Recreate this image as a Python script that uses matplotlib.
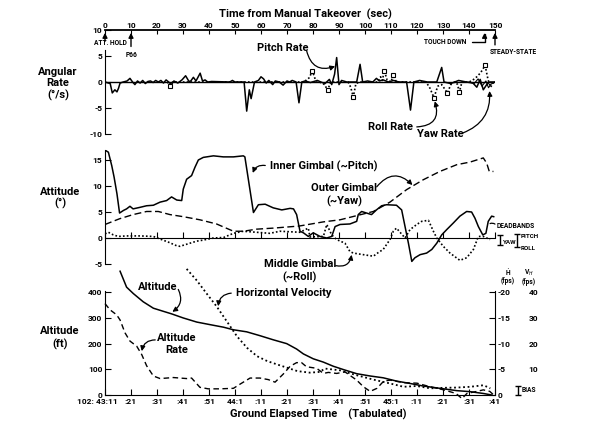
import numpy as np
import matplotlib
matplotlib.use("Agg")
from matplotlib import pyplot as plt
from matplotlib.transforms import ScaledTranslation

plt.rcParams['font.family'] = ['Roboto', 'DejaVu Sans']

# ---------------- data ----------------
# time from manual takeover (s)
top_ticks = [0, 10, 20, 30, 40, 50, 60, 70, 80, 90, 100, 110, 120, 130, 140, 150]
get_labels = ["102: 43:11", ":21", ":31", ":41", ":51", "44:1", ":11", ":21", ":31",
              ":41", ":51", "45:1", ":11", ":21", ":31", ":41"]

# angular rates (deg/s)
pitch_t = [0, 2.0, 2.8, 3.8, 4.6, 5.2, 5.8, 7, 8.5, 9.6, 10.6, 11.5, 12.5, 13.5, 14.5, 15.5,
           16.5, 17.5, 18.5, 19.5, 20.5, 21.5, 22.5, 23.5, 24.5, 25.5, 26.5, 28, 29.6, 31,
           32.3, 33, 34, 35, 36.6, 37.5, 38.5, 39.5, 41, 48, 49, 50, 53.5, 54.5, 55.5, 56.2,
           57.5, 59, 60, 61, 62, 63, 64.5, 65.5, 67, 68.5, 70, 71, 72, 73.5, 74.6, 75.7, 77,
           79, 81.7, 83, 84.6, 86.3, 87.2, 88.3, 89.1, 90, 91, 93, 96.8, 98.1, 99.1, 101, 103,
           104.4, 105.5, 107, 109, 111, 113, 116, 117.5, 118.8, 121, 124, 127.6, 129.5, 130.4,
           133, 136, 139, 141.5, 143, 144.3, 145.5, 146.8, 148, 150]
pitch_v = [0, -0.3, -2.1, -1.5, -1.9, -1.2, -0.2, 0, 0.2, 0.7, 0, -0.5, 0.2, -0.2, 0.3, -0.3,
           0.1, 0.2, -0.1, 0.3, 0, 0.3, -0.2, 0.4, 0, -0.5, 0.2, -0.2, 0.4, 1.2,
           0.1, 0.2, 0.9, 0.2, 1.7, 0.2, 0.4, 0, 0.1, 0, 0.3, 0, 0, -5.6, -1.5, -3.2,
           0, 0.3, 1.0, 0.6, -0.2, 0.3, -0.5, 0.2, 0, -0.6, 0.2, 0, 0.3, 0, -4.0, 0, 0.2,
           -0.1, 0.3, 0, -0.3, 0.5, -0.5, 1.5, 4.7, -0.5, 0.3, 0, 0, 3.4, 0, 0.2, 0,
           0.7, 0.2, 0.4, 0, 0.3, 0, 0, -5.4, 0, 0.3, 0, 0, 2.8, 0,
           -0.3, 0.3, 0, -0.2, -1.0, 0.5, -1.5, -0.5, 0, 0]
roll_t = [24, 25, 26, 76.5, 78.5, 79.8, 81, 82.5, 84.5, 85.6, 86.8, 93.5, 94.5, 95.5, 96.5, 98,
          105, 106, 106.7, 107.4, 108.5, 110, 110.9, 112, 123.5, 125, 126.5, 128, 129.5, 131.7,
          133, 134.5, 135.5, 136.3, 137.3, 140, 141.3, 143, 144.5, 146.2, 147.3, 148.3, 149.5]
roll_v = [0, -0.7, 0, 0, 0.8, 2.1, 0.3, 0, -0.5, -1.6, 0, 0, -1.0, -2.9, -0.3, 0,
          0, 1.0, 0.3, 2.2, 0.4, 0, 1.4, 0, 0, -1.2, -3.0, -0.8, -0.5, -2.1,
          -0.5, 0, -0.4, -1.9, 0, 0, 0.3, 1.0, 1.8, 3.2, 0.5, -1.0, 0]
roll_peaks = [1, 5, 9, 13, 19, 22, 26, 29, 33, 39]
yaw_t = [140, 142, 143.5, 145, 146.5, 147.5, 148.5, 150]
yaw_v = [0, -0.3, 0.6, -0.8, 0.2, -1.1, -0.4, 0]

# gimbal angles (deg)
inner_t = [0, 1.3, 2.6, 3.5, 4.6, 5.6, 7.1, 8.3, 9.6, 10.8, 13.5, 16.0, 18.6, 21.2, 23.7, 25.6,
           27.6, 29.5, 30.1, 31.4, 33.3, 34.6, 35.9, 37.8, 41.7, 45.5, 49.4, 53.2, 53.8, 57.1,
           59.0, 61.6, 64.7, 68.0, 71.2, 72.5, 73.7, 75.0, 76.3, 78.2, 80.1, 82.7, 85.3, 87.2,
           88.5, 90.4, 94.2, 96.8, 97.4, 98.7, 100.6, 102.5, 104.4, 106.4, 108.3, 112.1, 114.1,
           115.4, 116.7, 118.0, 119.2, 121.2, 123.7, 125.7, 127.6, 129.5, 131.4, 134.0, 136.5,
           139.1, 141.0, 142.3, 143.6, 145.3, 146.5, 147.4, 148.7, 149.5]
inner_v = [16.9, 16.5, 13.9, 11.7, 8.5, 4.8, 5.3, 5.6, 6.1, 5.6, 5.9, 6.2, 6.3, 6.9, 7.2, 7.9,
           7.3, 7.2, 9.4, 11.3, 12.0, 13.6, 15.0, 15.5, 15.8, 15.6, 15.6, 15.8, 15.6, 4.9,
           6.4, 6.5, 5.8, 5.4, 5.7, 5.6, 4.5, 1.3, 1.0, 0.3, 1.0, 0.3, 0, 0.3,
           2.2, 2.6, 2.7, 3.2, 4.5, 5.1, 4.8, 4.5, 5.4, 6.2, 6.4, 6.3, 5.4,
           2.2, -1.0, -4.5, -3.8, -3.2, -2.9, -2.2, -1.0, 0.6, 1.6, 2.9, 4.2,
           5.1, 5.0, 3.8, 2.2, 0.6, 0.9, 3.2, 4.2, 4.1]
outer_t = [0, 5.6, 10.8, 16.0, 20.5, 25.0, 30.1, 36.5, 42.9, 49.4, 53.2, 58.3, 64.7, 74.7, 84.0,
           90.4, 96.8, 103.2, 109.6, 116.0, 122.4, 128.8, 135.3, 140.4, 145.5, 146.8, 147.8, 149.4]
outer_v = [2.6, 3.7, 4.5, 5.1, 5.1, 4.5, 4.1, 3.5, 2.7, 1.3, 1.3, 1.7, 1.9, 2.3, 3.1,
           3.5, 4.3, 5.1, 6.9, 9.3, 11.2, 12.8, 14.1, 14.6, 15.4, 14.4, 12.8, 12.8]
middle_t = [0, 1.3, 3.2, 5.1, 8.3, 13.5, 18.6, 21.2, 24.4, 27.6, 28.8, 31.4, 35.3, 37.8, 41.7,
            45.6, 49.4, 53.2, 58.3, 63.4, 67.3, 71.2, 75.0, 78.2, 78.8, 84.0, 85.3, 87.2, 89.1,
            92.3, 94.2, 95.5, 99.3, 103.2, 105.1, 107.0, 109.6, 110.9, 112.1, 115.4, 117.3,
            119.9, 121.8, 124.4, 126.3, 127.6, 130.1, 132.7, 136.5, 139.1, 141.7, 143.6, 145.5,
            148.1]
middle_v = [0.8, 1.1, 0.6, 0.3, 0.4, 0.4, 0.3, -0.2, -0.8, -1.5, -1.6, -1.2, -0.6, -0.4, 0,
            0.1, 0.9, 1.3, 1.1, 0.9, 1.3, 1.2, 1.1, 1.9, 0.2, 0.3, 2.6, 0.6, -0.3,
            -1.0, -2.6, -2.9, -3.2, -3.5, -2.8, -2.2, -0.3, 1.3, 1.9, 0, 1.6,
            2.6, 3.2, 3.4, 1.3, 0, -1.6, -2.9, -4.3, -3.8, -2.2, 0.3, 0.3,
            -0.3]

# altitude (ft), altitude rate (fps), horizontal velocity (fps)
alt_t = [5.8, 8.3, 10.9, 14.7, 18.6, 22.4, 25.6, 30.1, 35.3, 40.4, 45.6, 49.4, 54.5, 59.6, 64.7,
         69.9, 73.7, 76.3, 80.1, 84.0, 87.8, 91.7, 96.8, 102.0, 107.0, 112.2, 117.3, 122.4,
         128.8, 135.3, 140.4, 145.5, 148.7]
alt_v = [482, 420, 395, 363, 338, 326, 316, 300, 284, 274, 264, 254, 246, 231, 215,
         200, 179, 160, 141, 128, 112, 99, 83, 74, 67, 54, 45, 35,
         26, 17, 13, 6, 0]
hdot_t = [0, 1.9, 4.5, 5.8, 7.7, 9.6, 12.2, 14.1, 16.0, 18.6, 21.2, 26.3, 31.4, 33.3, 36.5, 39.7,
          44.2, 49.4, 51.9, 55.8, 59.6, 62.8, 65.4, 68.6, 71.2, 73.7, 75.6, 77.5, 81.4, 84.0,
          85.9, 89.1, 92.3, 96.8, 99.4, 102.0, 104.6, 107.2, 109.7, 114.9, 120.0, 125.1, 130.3,
          135.0, 137.3, 139.2, 143.0, 145.5, 148.0, 149.5]
hdot_v = [-17.8, -16.6, -15.6, -14.6, -12.1, -10.5, -9.5, -7.9, -5.7, -3.7, -3.2, -3.4, -3.2,
          -3.3, -1.5, -1.2, -1.2, -1.3, -2.1, -3.3, -3.3, -3.0, -2.5, -4.1, -5.6, -6.3, -6.3,
          -5.5, -5.2, -4.2, -4.4, -4.2, -4.5, -2.9, -1.6, -0.7, -1.3, -2.7, -2.9, -2.4, -2.3,
          -1.6, -1.0, -0.3, 0.7, -0.3, -0.7, -1.0, -0.7, 0]
vh_t = [31.4, 35.3, 39.1, 43.0, 46.9, 50.8, 54.7, 58.5, 62.4, 66.2, 70.1, 74.0, 78.8, 82.7,
        84.5, 90.4, 96.8, 103.2, 109.6, 114.8, 119.9, 125.1, 130.3, 135.4, 140.5, 145.6, 148.2]
vh_v = [49.1, 44.6, 39.5, 34.4, 28.6, 22.8, 18.3, 15.1, 13.2, 11.9, 10.6, 9.3, 8.7, 9.0,
        10.3, 9.6, 7.7, 6.0, 4.5, 3.2, 3.5, 2.6, 2.8, 2.9, 3.2, 3.8, 2.6]

# ---------------- figure ----------------
W, H = 600, 436
fig = plt.figure(figsize=(6, 4.36), dpi=100)


def fx(px):
    return px / W


def fy(py):
    return 1 - py / H


def style(ax):
    for s in ['top', 'right', 'bottom', 'left']:
        ax.spines[s].set_visible(False)
    ax.set_xlim(0, 150)
    ax.patch.set_alpha(0)


tk = dict(fontsize=6, fontweight='bold')
lab = dict(fontsize=8, fontweight='bold')
small = dict(fontsize=4.8, fontweight='bold')

# ---- panel 1: angular rates ----
ax1 = fig.add_axes([fx(105), fy(134), fx(495) - fx(105), fy(30) - fy(134)])
style(ax1)
ax1.set_ylim(-10, 10)
ax1.spines['left'].set_visible(True)
ax1.spines['left'].set_bounds(-10, 6.2)
ax1.spines['top'].set_visible(True)
ax1.spines['top'].set_linewidth(1.3)
ax1.set_yticks([-10, -5, 0, 5, 10])
ax1.set_yticklabels(['-10', '-5', '0', '5', '10'], **tk)
ax1.tick_params(axis='y', direction='in', length=4, pad=2)
ax1.xaxis.tick_top()
ax1.set_xticks(top_ticks)
ax1.set_xticklabels([str(v) for v in top_ticks], **tk)
ax1.tick_params(axis='x', direction='in', length=3, pad=1)
ax1.axhline(0, color='black', lw=1.0)
ax1.plot(pitch_t, pitch_v, color='black', lw=1.1)
ax1.plot(yaw_t, yaw_v, color='black', lw=0.8)
ax1.plot(roll_t, roll_v, color='black', lw=1.2, ls=(0, (1, 1.3)),
         marker='s', markevery=roll_peaks, ms=2.6, mfc='white', mec='black', mew=0.8)

fig.text(fx(305), fy(14), 'Time from Manual Takeover  (sec)', ha='center', va='center', **lab)

# event arrows
ap = dict(arrowstyle='-|>', color='black', lw=1.0, mutation_scale=7)
ax1.annotate('', xy=(0, 10), xytext=(0, 7.3), arrowprops=ap, annotation_clip=False)
fig.text(fx(110), fy(43), 'ATT. HOLD', ha='center', va='center', **small)
ax1.annotate('', xy=(10, 10), xytext=(10, 6.3), arrowprops=ap, annotation_clip=False)
fig.text(fx(132), fy(55), 'P66', ha='center', va='center', **small)
ax1.annotate('TOUCH DOWN', xy=(146, 10), xycoords='data', xytext=(fx(445), fy(42)),
             textcoords='figure fraction', ha='center', va='center', annotation_clip=False,
             arrowprops=dict(arrowstyle='-|>', color='black', lw=1.0, mutation_scale=7,
                             connectionstyle='angle,angleA=0,angleB=90,rad=0'), **small)
ax1.annotate('', xy=(150, 10), xytext=(150, 6.6), arrowprops=ap, annotation_clip=False)
fig.text(fx(513), fy(52), 'STEADY-STATE', ha='center', va='center', **small)

fig.text(fx(58), fy(84), 'Angular\nRate\n(°/s)', ha='center', va='center', linespacing=1.15, **lab)

arr = dict(arrowstyle='-|>', color='black', lw=0.9, mutation_scale=7)
fig.text(fx(257), fy(48), 'Pitch Rate', ha='left', va='center', **lab)
ax1.annotate('', xy=(89.5, 3.2), xytext=(fx(306), fy(48)), textcoords='figure fraction',
             arrowprops=dict(connectionstyle='arc3,rad=0.6', **arr))
fig.text(fx(413), fy(127), 'Roll Rate', ha='right', va='center', **lab)
ax1.annotate('', xy=(126.5, -3.2), xytext=(fx(414), fy(127)), textcoords='figure fraction',
             arrowprops=dict(connectionstyle='arc3,rad=0.7', **arr))
fig.text(fx(417), fy(134), 'Yaw Rate', ha='left', va='center', **lab)
ax1.annotate('', xy=(147.8, -1.2), xytext=(fx(460), fy(134)), textcoords='figure fraction',
             arrowprops=dict(connectionstyle='arc3,rad=0.4', **arr))

# ---- panel 2: gimbal angles ----
ax2 = fig.add_axes([fx(105), fy(264), fx(495) - fx(105), fy(149.6) - fy(264)])
style(ax2)
ax2.set_ylim(-5, 17)
ax2.spines['left'].set_visible(True)
ax2.spines['left'].set_bounds(-5, 17)
ax2.spines['bottom'].set_visible(True)
ax2.spines['bottom'].set_position(('data', 0))
ax2.set_yticks([-5, 0, 5, 10, 15])
ax2.set_yticklabels(['-5', '0', '5', '10', '15'], **tk)
ax2.tick_params(axis='y', direction='in', length=4, pad=2)
ax2.set_xticks(top_ticks)
ax2.set_xticklabels([])
ax2.tick_params(axis='x', direction='in', length=4)
ax2.plot(inner_t, inner_v, color='black', lw=1.1)
ax2.plot(outer_t, outer_v, color='black', lw=1.0, ls=(0, (5, 2.5)))
ax2.plot(middle_t, middle_v, color='black', lw=1.2, ls=(0, (1, 1.3)))

fig.text(fx(60), fy(198), 'Attitude\n(°)', ha='center', va='center', linespacing=1.15, **lab)
fig.text(fx(270), fy(166), 'Inner Gimbal (~Pitch)', ha='left', va='center', **lab)
ax2.annotate('', xy=(56.5, 12.0), xytext=(fx(268), fy(166)), textcoords='figure fraction',
             arrowprops=dict(connectionstyle='arc3,rad=0.5', **arr))
fig.text(fx(344), fy(195), 'Outer Gimbal\n(~Yaw)', ha='center', va='center', linespacing=1.25, **lab)
ax2.annotate('', xy=(119, 9.8), xytext=(fx(375), fy(189)), textcoords='figure fraction',
             arrowprops=dict(connectionstyle='arc3,rad=-0.6', **arr))
fig.text(fx(300), fy(271), 'Middle Gimbal\n(~Roll)', ha='center', va='center', linespacing=1.25, **lab)
ax2.annotate('', xy=(95, -2.7), xytext=(fx(333), fy(265)), textcoords='figure fraction',
             arrowprops=dict(connectionstyle='arc3,rad=0.6', **arr))

# deadbands
fig.text(fx(497), fy(226), 'DEADBANDS', ha='left', va='center', **small)
ax2.annotate('', xy=(147.2, 2.5), xytext=(fx(497), fy(226)), textcoords='figure fraction',
             arrowprops=dict(arrowstyle='-', color='black', lw=0.9, connectionstyle='arc3,rad=0.5'))
ax2.errorbar([152], [-0.4], yerr=[1.0], color='black', capsize=2, lw=1, clip_on=False)
fig.text(fx(503), fy(242), 'YAW', ha='left', va='center', fontsize=4.5, fontweight='bold')
ax2.errorbar([158.5], [-0.5], yerr=[1.3], color='black', capsize=2, lw=1, clip_on=False)
fig.text(fx(521), fy(236), 'PITCH', ha='left', va='center', fontsize=4.5, fontweight='bold')
fig.text(fx(521), fy(248), 'ROLL', ha='left', va='center', fontsize=4.5, fontweight='bold')

# ---- panel 3: altitude ----
ax3 = fig.add_axes([fx(105), fy(395), fx(495) - fx(105), fy(291) - fy(395)])
style(ax3)
ax3.set_ylim(0, 405)
ax3.spines['left'].set_visible(True)
ax3.spines['left'].set_bounds(0, 405)
ax3.spines['bottom'].set_visible(True)
ax3.set_yticks([0, 100, 200, 300, 400])
ax3.set_yticklabels(['0', '100', '200', '300', '400'], **tk)
ax3.tick_params(axis='y', direction='in', length=4, pad=2)
ax3.set_xticks(top_ticks)
ax3.set_xticklabels(get_labels, **tk)
ax3.tick_params(axis='x', direction='in', length=4, pad=2)
first = ax3.get_xticklabels()[0]
first.set_ha('right')
first.set_transform(first.get_transform() + ScaledTranslation(0.13, 0, fig.dpi_scale_trans))
ax3.plot(alt_t, alt_v, color='black', lw=1.1, clip_on=False)

axr = ax3.twinx()
style(axr)
axr.set_ylim(0, -20.25)
axr.spines['right'].set_visible(True)
axr.spines['right'].set_bounds(-20.3, 0)
axr.set_yticks([0, -5, -10, -15, -20])
axr.set_yticklabels(['0', '-5', '-10', '-15', '-20'], **tk)
axr.tick_params(axis='y', direction='in', length=4, pad=2)
axr.plot(hdot_t, hdot_v, color='black', lw=1.0, ls=(0, (4, 2.5)), clip_on=False)

axv = ax3.twinx()
style(axv)
axv.set_ylim(0, 40.5)
axv.set_yticks([10, 20, 30, 40])
axv.set_yticklabels(['10', '20', '30', '40'], **tk)
axv.tick_params(axis='y', length=0, pad=24)
axv.plot(vh_t, vh_v, color='black', lw=1.3, ls=(0, (1, 1.5)), clip_on=False)

fig.text(fx(508), fy(277), 'Ḣ\n(fps)', ha='center', va='center', linespacing=1.0, **small)
fig.text(fx(529), fy(277), 'V$_H$\n(fps)', ha='center', va='center', linespacing=1.0, **small)
axr.errorbar([159], [-0.9], yerr=[0.9], color='black', capsize=2, lw=1, clip_on=False)
fig.text(fx(522), fy(390), 'BIAS', ha='left', va='center', **small)

fig.text(fx(60), fy(338), 'Altitude\n(ft)', ha='center', va='center', linespacing=1.2, **lab)
fig.text(fx(318), fy(414), 'Ground Elapsed Time    (Tabulated)', ha='center', va='center', **lab)
fig.text(fx(158), fy(287), 'Altitude', ha='center', va='center', **lab)
ax3.annotate('', xy=(25, 318), xytext=(fx(177), fy(287)), textcoords='figure fraction',
             arrowprops=dict(connectionstyle='arc3,rad=-0.5', **arr))
fig.text(fx(236), fy(293), 'Horizontal Velocity', ha='left', va='center', **lab)
axv.annotate('', xy=(43.5, 33.5), xytext=(fx(234), fy(293)), textcoords='figure fraction',
             arrowprops=dict(connectionstyle='arc3,rad=0.5', **arr))
fig.text(fx(177), fy(344), 'Altitude\nRate', ha='center', va='center', linespacing=1.15, **lab)
axr.annotate('', xy=(14.0, -8.0), xytext=(fx(158), fy(340)), textcoords='figure fraction',
             arrowprops=dict(connectionstyle='arc3,rad=0.5', **arr))

fig.savefig('out.png', dpi=100, facecolor='white')
